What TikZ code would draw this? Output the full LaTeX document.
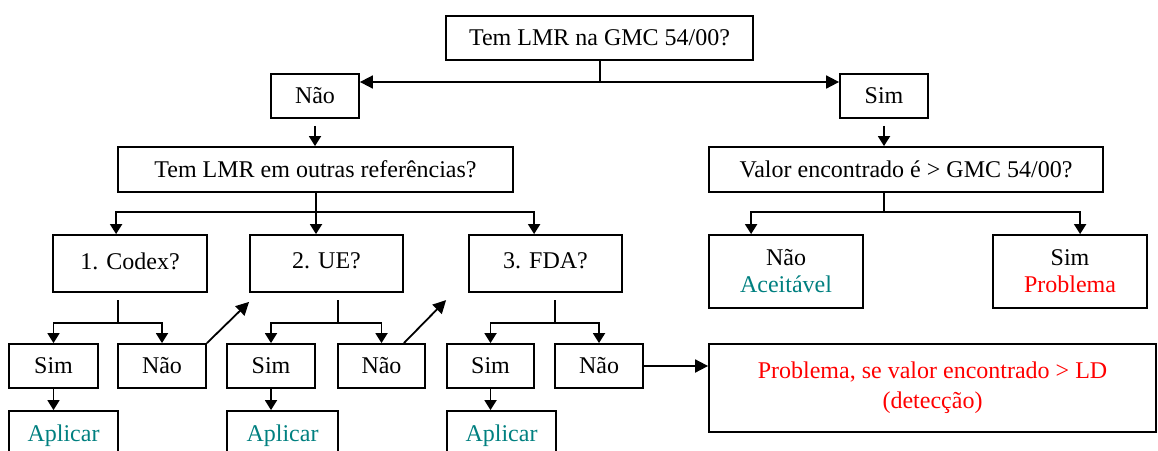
\documentclass[tikz,border=0pt]{standalone}
\usepackage{fontspec}
\setmainfont{Liberation Serif}
\usetikzlibrary{arrows.meta}
\definecolor{tealc}{RGB}{0,128,128}
\definecolor{redc}{RGB}{255,0,0}
\begin{document}
\begin{tikzpicture}[x=1pt,y=-1pt,
  box/.style={draw=black,line width=1.8pt,inner sep=0pt,align=center,font=\fontsize{24}{27}\selectfont},
  arr/.style={line width=1.8pt,-{Triangle[length=10pt,width=12pt]}},
  bigarr/.style={line width=1.8pt,-{Triangle[length=13pt,width=13pt]}},
  ln/.style={line width=1.8pt},
  okt/.style={text=tealc},
  bad/.style={text=redc}]
\clip (0,0) rectangle (1158,450);
\fill[white] (0,0) rectangle (1158,450);
% top level
\node[box,minimum width=307pt,minimum height=44pt] (q0) at (599.5,38) {Tem LMR na GMC 54/00?};
\node[box,minimum width=88pt,minimum height=44pt] (n1) at (315,96) {Não};
\node[box,minimum width=88pt,minimum height=44pt] (s1) at (884,96) {Sim};
\node[box,minimum width=395pt,minimum height=45pt] (q1) at (315.5,169.5) {Tem LMR em outras referências?};
\node[box,minimum width=394pt,minimum height=45pt] (q2) at (906,169.5) {Valor encontrado é > GMC 54/00?};
% references
\node[box,minimum width=154pt,minimum height=57pt] (codex) at (130,263.5) {1. Codex?\vphantom{p}};
\node[box,minimum width=153pt,minimum height=57pt] (ue) at (326.5,263.5) {2. UE?\vphantom{p}};
\node[box,minimum width=153pt,minimum height=57pt] (fda) at (545.5,263.5) {3. FDA?\vphantom{p}};
\node[box,minimum width=154pt,minimum height=73pt] (a2) at (786,271.5) {Não\\\textcolor{tealc}{Aceitável}};
\node[box,minimum width=154pt,minimum height=73pt] (p2) at (1070,271.5) {Sim\\\textcolor{redc}{Problema}};
% answers
\node[box,minimum width=89pt,minimum height=44pt] (cs) at (53.5,366) {Sim};
\node[box,minimum width=88pt,minimum height=44pt] (cn) at (162,366) {Não};
\node[box,minimum width=88pt,minimum height=44pt] (us) at (271,366) {Sim};
\node[box,minimum width=87pt,minimum height=44pt] (un) at (381.5,366) {Não};
\node[box,minimum width=87pt,minimum height=44pt] (fs) at (490.5,366) {Sim};
\node[box,minimum width=88pt,minimum height=44pt] (fn) at (599,366) {Não};
\node[box,minimum width=109pt,minimum height=50pt,okt] (ca) at (63.5,436) {Aplicar};
\node[box,minimum width=111pt,minimum height=50pt,okt] (ua) at (282.5,436) {Aplicar};
\node[box,minimum width=109pt,minimum height=50pt,okt] (fa) at (501.5,436) {Aplicar};
\node[box,minimum width=447pt,minimum height=88pt,bad] (big) at (932.5,388) {Problema, se valor encontrado > LD\\[3pt](detecção)};
% junction coordinates
\coordinate (j0) at (600,82);
\coordinate (j1) at (316,212);
\coordinate (j2) at (884,212);
\coordinate (jc0) at (118,300);
\coordinate (jc) at (118,323);
\coordinate (ju0) at (338,300);
\coordinate (ju) at (338,323);
\coordinate (jf0) at (555,300);
\coordinate (jf) at (555,323);
% connectors: top
\draw[ln] (q0.south -| j0) -- (j0);
\draw[bigarr] (j0) -- (j0 -| n1.east);
\draw[bigarr] (j0) -- (j0 -| s1.west);
\draw[arr] ([yshift=-7pt]n1.south) -- (n1.south |- q1.north);
\draw[arr] ([yshift=-7pt]s1.south) -- (s1.south |- q2.north);
% left split
\draw[ln] (q1.south -| j1) -- (j1);
\draw[arr] (j1) -| ([xshift=64pt]codex.north west);
\draw[arr] (j1) -- (j1 |- ue.north);
\draw[arr] (j1) -| ([xshift=66pt]fda.north west);
% right split
\draw[ln] (q2.south -| j2) -- (j2);
\draw[arr] (j2) -| ([xshift=43pt]a2.north west);
\draw[arr] (j2) -| ([xshift=88pt]p2.north west);
% codex children
\draw[ln] (jc0) -- (jc);
\draw[arr] (jc) -| (cs.north);
\draw[arr] (jc) -| (cn.north);
\draw[arr] (cs.south) -- (cs.south |- ca.north);
\draw[bigarr] (cn.north east) -- ([yshift=-9pt]ue.south west);
% ue children
\draw[ln] (ju0) -- (ju);
\draw[arr] (ju) -| (us.north);
\draw[arr] (ju) -| (un.north);
\draw[arr] (us.south) -- (us.south |- ua.north);
\draw[bigarr] (un.north -| ue.south east) -- ([yshift=43pt]fs.north west);
% fda children
\draw[ln] (jf0) -- (jf);
\draw[arr] (jf) -| (fs.north);
\draw[arr] (jf) -| (fn.north);
\draw[arr] (fs.south) -- (fs.south |- fa.north);
\draw[bigarr] (fn.east) -- (fn.east -| big.west);
\end{tikzpicture}
\end{document}
